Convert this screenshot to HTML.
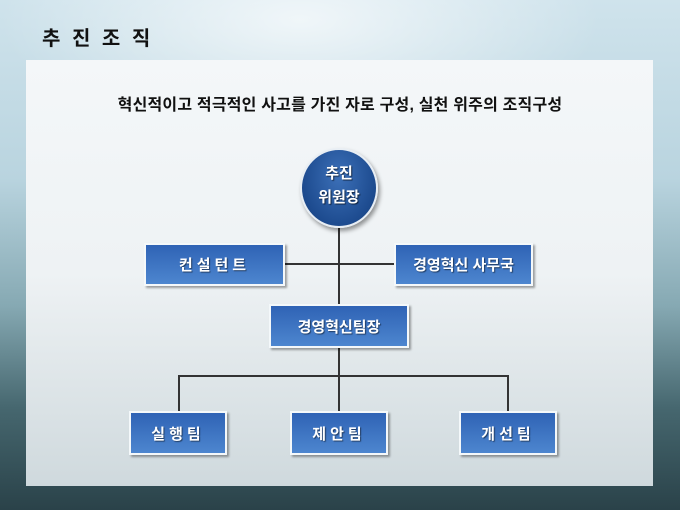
<!DOCTYPE html>
<html><head><meta charset="utf-8"><style>
*{margin:0;padding:0;box-sizing:border-box}
body{width:680px;height:510px;overflow:hidden;position:relative;font-family:"Liberation Sans","Noto Sans CJK KR",sans-serif;
background:linear-gradient(180deg,#cfe3ec 0%,#b9d4df 35%,#86a9b3 60%,#46676f 80%,#2a4249 100%);}
.bgl{position:absolute;left:0;top:0;width:680px;height:510px;background:radial-gradient(ellipse 300px 120px at 300px 20px,rgba(255,255,255,.7),rgba(255,255,255,0));}
.title{position:absolute;left:42px;top:22px;font-size:20px;font-weight:bold;color:#111;letter-spacing:3px}
.panel{position:absolute;left:26px;top:60px;width:627px;height:426px;background:linear-gradient(180deg,#f4f7f9 0%,#eef2f4 50%,#cfd9dd 100%);}
.sub{position:absolute;left:0;width:680px;top:91px;text-align:center;font-size:16px;font-weight:bold;color:#111;letter-spacing:0.2px}
.box{position:absolute;border:2px solid #f4f8fa;background:linear-gradient(180deg,#2f63b5,#4d86cf);color:#fff;font-weight:bold;font-size:15px;display:flex;align-items:center;justify-content:center;box-shadow:2px 2px 2px rgba(0,0,0,.35);text-shadow:1px 1px 1px rgba(0,0,0,.5)}
.ln{position:absolute;background:#333}
.circ{position:absolute;left:300px;top:148px;width:78px;height:80px;border-radius:50%;background:radial-gradient(ellipse at 50% 35%,#3c70b8,#1d4b8f 70%,#163a70);border:2px solid #e8eef4;box-shadow:2px 3px 4px rgba(0,0,0,.4);color:#fff;font-weight:bold;font-size:15px;text-align:center;line-height:24px;padding-top:12px;text-shadow:1px 1px 1px rgba(0,0,0,.6)}
</style></head><body>
<div class="bgl"></div>
<div class="title">추 진 조 직</div>
<div class="panel"></div>
<div class="sub">혁신적이고 적극적인 사고를 가진 자로 구성, 실천 위주의 조직구성</div>
<div class="ln" style="left:338px;top:226px;width:2px;height:80px"></div>
<div class="ln" style="left:284px;top:263px;width:111px;height:2px"></div>
<div class="ln" style="left:338px;top:346px;width:2px;height:66px"></div>
<div class="ln" style="left:178px;top:375px;width:331px;height:2px"></div>
<div class="ln" style="left:178px;top:375px;width:2px;height:37px"></div>
<div class="ln" style="left:507px;top:375px;width:2px;height:37px"></div>
<div class="circ">추진<br>위원장</div>
<div class="box" style="left:144px;top:243px;width:141px;height:43px;letter-spacing:4px">컨설턴트</div>
<div class="box" style="left:394px;top:243px;width:139px;height:43px">경영혁신 사무국</div>
<div class="box" style="left:269px;top:304px;width:140px;height:44px">경영혁신팀장</div>
<div class="box" style="left:129px;top:411px;width:98px;height:44px;letter-spacing:4px">실행팀</div>
<div class="box" style="left:290px;top:411px;width:98px;height:44px;letter-spacing:4px">제안팀</div>
<div class="box" style="left:459px;top:411px;width:98px;height:44px;letter-spacing:4px">개선팀</div>
</body></html>
